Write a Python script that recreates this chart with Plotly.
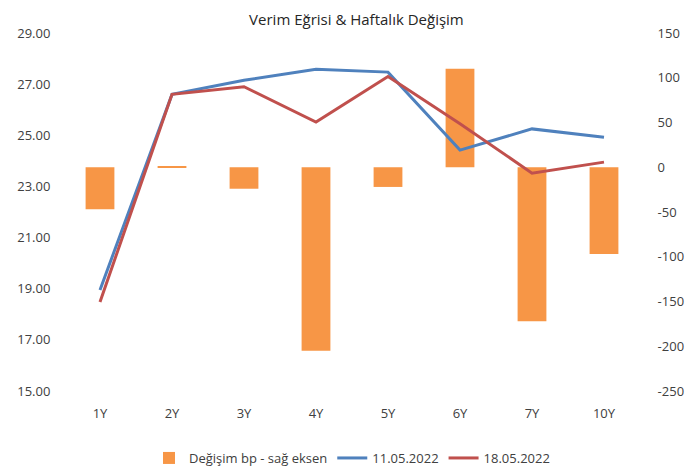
import plotly.graph_objects as go

categories = ["1Y", "2Y", "3Y", "4Y", "5Y", "6Y", "7Y", "10Y"]
change_bp = [-47, 1, -24, -205, -22, 110, -172, -97]
yield_1105 = [18.95, 26.6, 27.15, 27.58, 27.47, 24.42, 25.25, 24.92]
yield_1805 = [18.48, 26.6, 26.9, 25.52, 27.3, 25.45, 23.52, 23.95]
left_ticks = [15, 17, 19, 21, 23, 25, 27, 29]
right_ticks = [-250, -200, -150, -100, -50, 0, 50, 100, 150]

FONT = "Open Sans, sans-serif"
TXT = "#404040"

# page has an 8px body margin; figure sized to fit the 698x472 window
W, H = 690, 464

fig = go.Figure()
fig.add_trace(go.Bar(x=categories, y=change_bp, name="Değişim bp - sağ eksen",
                     marker=dict(color="#F79646", line=dict(width=0)), width=0.4,
                     yaxis="y"))
fig.add_trace(go.Scatter(x=categories, y=yield_1105, name="11.05.2022", mode="lines",
                         line=dict(color="#4F81BD", width=3), yaxis="y2"))
fig.add_trace(go.Scatter(x=categories, y=yield_1805, name="18.05.2022", mode="lines",
                         line=dict(color="#C0504D", width=3), yaxis="y2"))

fig.update_layout(
    width=W, height=H,
    paper_bgcolor="white", plot_bgcolor="white",
    margin=dict(l=56, r=58, t=25, b=81, autoexpand=False),
    font=dict(family=FONT, size=13, color=TXT),
    title=dict(text="Verim Eğrisi & Haftalık Değişim", x=0.505, xanchor="center",
               y=1 - 12 / H, yanchor="middle", font=dict(size=15, color="#262626")),
    xaxis=dict(type="category", showgrid=False, showline=False, zeroline=False,
               ticks="outside", ticklen=10, tickcolor="rgba(0,0,0,0)",
               tickfont=dict(size=13, color=TXT), automargin=False),
    yaxis=dict(side="right", range=[-250, 150], tickvals=right_ticks,
               ticktext=[str(v) for v in right_ticks], showgrid=False,
               zeroline=False, showline=False, ticks="outside", ticklen=14,
               tickcolor="rgba(0,0,0,0)", automargin=False,
               tickfont=dict(size=13, color=TXT)),
    yaxis2=dict(side="left", overlaying="y", range=[15, 29], tickvals=left_ticks,
                ticktext=[f"{v:.2f}" for v in left_ticks], showgrid=False,
                zeroline=False, showline=False, ticks="outside", ticklen=10,
                tickcolor="rgba(0,0,0,0)", automargin=False,
                tickfont=dict(size=13, color=TXT)),
    legend=dict(orientation="h", x=0.5, xanchor="center", y=-(450 - 383) / 358,
                yanchor="middle", font=dict(size=13, color=TXT), traceorder="normal"),
    showlegend=True,
)

fig.write_html("out.html")
